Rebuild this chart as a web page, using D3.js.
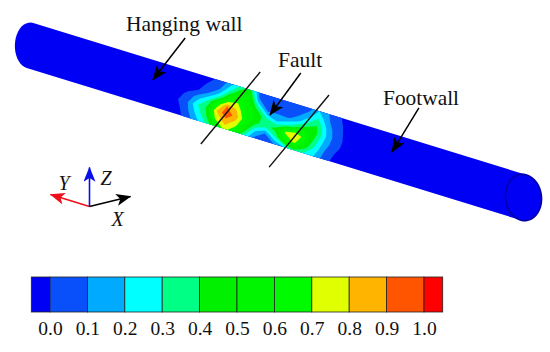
<!DOCTYPE html>
<html>
<head>
<meta charset="utf-8">
<script src="https://cdn.jsdelivr.net/npm/d3@7"></script>
<style>
  body { margin: 0; background: #fff; }
  svg { display: block; }
  text { font-family: "Liberation Serif", serif; fill: #111; }
</style>
</head>
<body>
<div id="canvas"></div>
<script>
// colour levels of the legend
const levels = [0, 0.1, 0.2, 0.3, 0.4, 0.5, 0.6, 0.7, 0.8, 0.9, 1.0];
const levelColors = ["#0000f5", "#0a50fa", "#00aaff", "#00ffff", "#00ff85", "#00f000", "#00f500", "#00fa00", "#e0ff00", "#ffb400", "#ff5500", "#ff0000"];

// field: one row per position along the pipe, 7 values across it
const fieldAlong = [30, 32, 34, 36, 38, 40, 42, 44, 46, 48, 50, 52, 54, 56, 58, 60, 62, 64, 66, 68];
const fieldValues = [
  [-.05, -.05, -.05, -.03, -.01, -.04, -.05],
  [-.05, -.05, -.03, .02, .08, .06, .03],
  [-.05, -.03, 0, .15, .28, .22, .15],
  [-.02, .02, .1, .3, .42, .38, .3],
  [.03, .08, .25, .6, .8, .72, .5],
  [.15, .3, .55, .9, .98, .85, .75],
  [.32, .5, .68, .78, .85, .75, .6],
  [.45, .55, .55, .55, .6, .5, .3],
  [.05, .12, .35, .5, .42, .22, .08],
  [.02, .02, .08, .3, .35, .1, .03],
  [.02, .02, .1, .2, .45, .3, .1],
  [.02, .02, .08, .28, .72, .62, .2],
  [.03, .06, .15, .42, .82, .72, .38],
  [.05, .15, .3, .5, .62, .48, .3],
  [.2, .3, .4, .42, .35, .28, .2],
  [.1, .12, .18, .2, .15, .1, .06],
  [.01, .02, .03, .04, .03, 0, -.03],
  [-.03, -.02, -.02, -.02, -.03, -.05, -.05],
  [-.05, -.05, -.05, -.05, -.05, -.05, -.05],
  [-.05, -.05, -.05, -.05, -.05, -.05, -.05]
];

// annotations, in along / across pipe units
const faultLines = [[[45.4, -1.89], [35.9, 1.95]], [[59.4, -1.81], [49.8, 2.04]]];
const arrowLabels = ["Hanging wall", "Fault", "Footwall"];
const arrowFrom = [[29.9, -2.35], [53.3, -2.38], [77.2, -2.44]];
const arrowTo = [[24.8, -0.15], [48.5, -0.19], [73.2, -0.21]];

const width = 550;
const height = 352;

const svg = d3.select("#canvas")
  .append("svg")
  .attr("width", width)
  .attr("height", height)
  .attr("viewBox", `0 0 ${width} ${height}`);

const defs = svg.append("defs");
const addHead = (id, color, size) => defs.append("marker")
  .attr("id", id)
  .attr("viewBox", "0 0 10 8")
  .attr("refX", 9.5)
  .attr("refY", 4)
  .attr("markerUnits", "userSpaceOnUse")
  .attr("markerWidth", size)
  .attr("markerHeight", size * 0.8)
  .attr("orient", "auto")
  .append("path")
  .attr("d", "M0,0 L10,4 L0,8 L2.5,4 Z")
  .attr("fill", color);
addHead("head-black", "#000", 15);
addHead("head-red", "#f0101a", 15);
addHead("head-blue", "#0a10e8", 15);

// pipe projection: u runs along the axis 0-100, v across it -1..1
const xAlong = d3.scaleLinear().domain([0, 100]).range([30, 523.5]);
const yAlong = d3.scaleLinear().domain([0, 100]).range([45.5, 197.5]);
const px = (u, v) => xAlong(u) - 3.25 * v;
const py = (u, v) => yAlong(u) + 22.5 * v;
const pipeLine = d3.line().x(d => px(d[0], d[1])).y(d => py(d[0], d[1]));

const capAngles = d3.range(0, 1.0001, 0.05).map(t => t * Math.PI);
const rightCap = capAngles.map(a => [100 + 3.6 * Math.sin(a), -Math.cos(a)]);
const leftCap = capAngles.map(a => [-3 * Math.sin(a), Math.cos(a)]);
const ring = d3.range(0, 2.0001, 0.05).map(t => [100 + 3.6 * Math.cos(t * Math.PI), Math.sin(t * Math.PI)]);

svg.append("path")
  .attr("d", pipeLine(rightCap.concat(leftCap)) + "Z")
  .attr("fill", "#0000f5");

// contour bands
const nCols = fieldAlong.length;
const nRows = fieldValues[0].length;
const uStep = fieldAlong[1] - fieldAlong[0];
const flat = [];
for (let r = 0; r < nRows; r++) {
  for (let c = 0; c < nCols; c++) flat.push(fieldValues[c][r]);
}
const bands = d3.contours().size([nCols, nRows]).thresholds(levels)(flat);
const fieldColor = d3.scaleThreshold().domain(levels).range(levelColors);
const bandPath = d3.geoPath(d3.geoTransform({
  point(x, y) {
    const u = fieldAlong[0] + (x - 0.5) * uStep;
    const v = Math.max(-1, Math.min(1, -1 + (y - 0.5) * 2 / (nRows - 1)));
    this.stream.point(px(u, v), py(u, v));
  }
}));
svg.append("g")
  .selectAll("path")
  .data(bands)
  .join("path")
  .attr("d", bandPath)
  .attr("fill", d => fieldColor(d.value));

svg.append("path")
  .attr("d", pipeLine(ring) + "Z")
  .attr("fill", "none")
  .attr("stroke", "#0000a8")
  .attr("stroke-width", 1.6);

// fault traces
svg.append("g")
  .selectAll("path")
  .data(faultLines)
  .join("path")
  .attr("d", pipeLine)
  .attr("stroke", "#111")
  .attr("stroke-width", 1.4);

// labelled arrows
svg.append("g")
  .selectAll("path")
  .data(arrowLabels.map((d, i) => [arrowFrom[i], arrowTo[i]]))
  .join("path")
  .attr("d", pipeLine)
  .attr("stroke", "#000")
  .attr("stroke-width", 1.5)
  .attr("marker-end", "url(#head-black)");

svg.append("text").attr("x", 126).attr("y", 31).attr("font-size", 21.5).text(arrowLabels[0]);
svg.append("text").attr("x", 278).attr("y", 67).attr("font-size", 21.5).text(arrowLabels[1]);
svg.append("text").attr("x", 383).attr("y", 105).attr("font-size", 21.4).text(arrowLabels[2]);

// coordinate triad
const triad = svg.append("g").attr("transform", "translate(89.5,206.5)");
const axisTips = [["Y", -39, -12, "#f0101a", "head-red"], ["Z", 0, -39, "#0a10e8", "head-blue"], ["X", 41, -10, "#000", "head-black"]];
triad.selectAll("line")
  .data(axisTips)
  .join("line")
  .attr("x1", 0)
  .attr("y1", 0)
  .attr("x2", d => d[1])
  .attr("y2", d => d[2])
  .attr("stroke", d => d[3])
  .attr("stroke-width", 1.6)
  .attr("marker-end", d => `url(#${d[4]})`);
triad.append("text").attr("x", -31).attr("y", -17).attr("font-size", 20).attr("font-style", "italic").text("Y");
triad.append("text").attr("x", 11).attr("y", -22).attr("font-size", 20).attr("font-style", "italic").text("Z");
triad.append("text").attr("x", 22).attr("y", 19).attr("font-size", 20).attr("font-style", "italic").text("X");

// colour bar
const xBar = d3.scaleLinear().domain([0, 1]).range([50, 424]);
const barEdges = [-0.05].concat(levels, [1.05]);
const bar = svg.append("g");
bar.selectAll("rect")
  .data(levelColors)
  .join("rect")
  .attr("x", (d, i) => xBar(barEdges[i]))
  .attr("y", 277)
  .attr("width", (d, i) => xBar(barEdges[i + 1]) - xBar(barEdges[i]))
  .attr("height", 35)
  .attr("fill", d => d)
  .attr("stroke", "#222")
  .attr("stroke-width", 0.8);

const barAxis = svg.append("g")
  .attr("transform", "translate(0,312)")
  .call(d3.axisBottom(xBar).tickValues(levels).tickFormat(d3.format(".1f")).tickSize(0).tickPadding(9));
barAxis.select(".domain").remove();
barAxis.selectAll("text")
  .attr("font-family", "Liberation Serif")
  .attr("font-size", 19.5)
  .attr("fill", "#111");
</script>
</body>
</html>
